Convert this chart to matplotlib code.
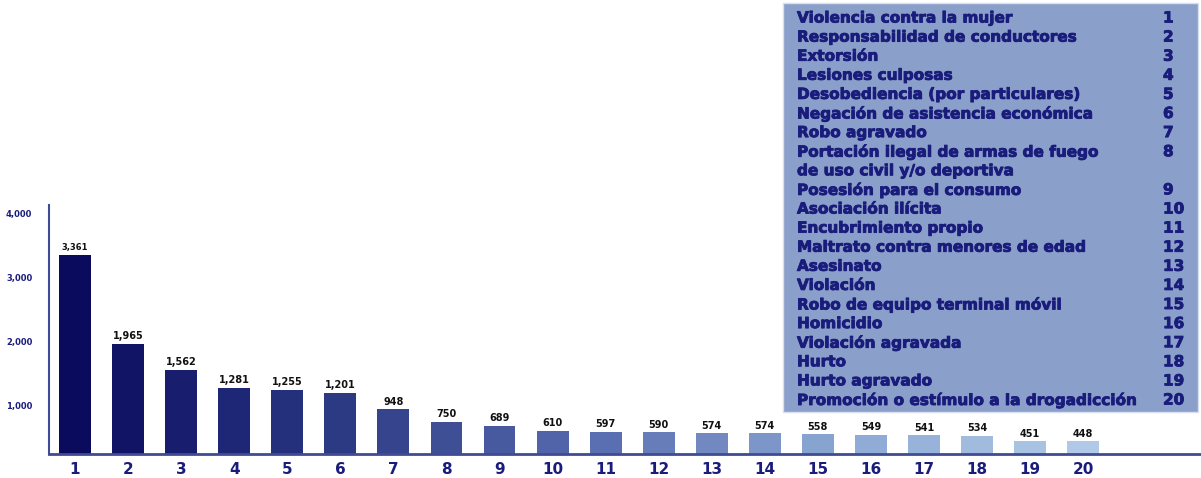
import matplotlib
matplotlib.use("Agg")
import matplotlib.pyplot as plt
import matplotlib.patheffects as pe
from matplotlib.colors import LinearSegmentedColormap
from matplotlib.patches import Rectangle
import numpy as np

categories = [str(i) for i in range(1, 21)]
values = [3361, 1965, 1562, 1281, 1255, 1201, 948, 750, 689, 610,
          597, 590, 574, 574, 558, 549, 541, 534, 451, 448]
value_labels = ["3,361", "1,965", "1,562", "1,281", "1,255", "1,201", "948", "750",
                "689", "610", "597", "590", "574", "574", "558", "549", "541",
                "534", "451", "448"]
yticks = [1000, 2000, 3000, 4000]
ytick_labels = ["1,000", "2,000", "3,000", "4,000"]

legend_names = [
    "Violencia contra la mujer",
    "Responsabilidad de conductores",
    "Extorsión",
    "Lesiones culposas",
    "Desobediencia (por particulares)",
    "Negación de asistencia económica",
    "Robo agravado",
    "Portación ilegal de armas de fuego\nde uso civil y/o deportiva",
    "Posesión para el consumo",
    "Asociación ilícita",
    "Encubrimiento propio",
    "Maltrato contra menores de edad",
    "Asesinato",
    "Violación",
    "Robo de equipo terminal móvil",
    "Homicidio",
    "Violación agravada",
    "Hurto",
    "Hurto agravado",
    "Promoción o estímulo a la drogadicción",
]

navy = "#1a1c7c"
axis_col = "#3f4b95"

fig = plt.figure(figsize=(12.01, 4.78), dpi=100)
ax = fig.add_axes([49 / 1201, (478 - 454) / 478, (1200 - 49) / 1201, (454 - 205) / 478])

cmap = LinearSegmentedColormap.from_list("b", ["#0b0b5e", "#2a3882", "#5569ad", "#8aa6d2", "#b0c9e8"])
x = np.arange(1, len(values) + 1)
colors = [cmap(i / (len(values) - 1)) for i in range(len(values))]
ax.bar(x, values, width=0.6, color=colors, zorder=2)

for xi, v, lab in zip(x, values, value_labels):
    ax.text(xi, v + 40, lab, ha="center", va="bottom", fontsize=7 if xi > 1 else 6,
            fontweight="bold", color="#111111")

ax.set_xlim(0.51, 22.2)
ax.set_ylim(250, 4133)
ax.set_xticks(x)
ax.set_xticklabels(categories, fontsize=11, fontweight="bold", color=navy)
ax.set_yticks(yticks)
ax.set_yticklabels(ytick_labels, fontsize=6, fontweight="bold", color=navy)
ax.tick_params(axis="both", length=0)
ax.tick_params(axis="y", pad=12)
ax.tick_params(axis="x", pad=6)
for s in ["top", "right"]:
    ax.spines[s].set_visible(False)
ax.spines["left"].set_color(axis_col)
ax.spines["bottom"].set_color(axis_col)
ax.spines["left"].set_linewidth(1.5)
ax.spines["bottom"].set_linewidth(2)

# legend box
W, H = 1201, 478
box = Rectangle((783 / W, 1 - 412 / H), (1198 - 783) / W, (412 - 3) / H,
                transform=fig.transFigure, facecolor="#8a9fc9", edgecolor="#d8dfee",
                linewidth=1, zorder=5)
fig.patches.append(box)

fs = 11
heavy = [pe.withStroke(linewidth=0.6, foreground=navy)]
row = 0
for i, name in enumerate(legend_names):
    y = 18 + row * 19.1
    fig.text(797 / W, 1 - y / H, name.split("\n")[0], ha="left", va="center",
             fontsize=fs, fontweight="bold", color=navy, family="DejaVu Sans", zorder=6,
             path_effects=heavy)
    fig.text(1163 / W, 1 - y / H, str(i + 1), ha="left", va="center",
             fontsize=fs, fontweight="bold", color=navy, family="DejaVu Sans", zorder=6,
             path_effects=heavy)
    row += 1
    if "\n" in name:
        y = 18 + row * 19.1
        fig.text(797 / W, 1 - y / H, name.split("\n")[1], ha="left", va="center",
                 fontsize=fs, fontweight="bold", color=navy, family="DejaVu Sans", zorder=6,
                 path_effects=heavy)
        row += 1

fig.savefig("out.png", dpi=100)
